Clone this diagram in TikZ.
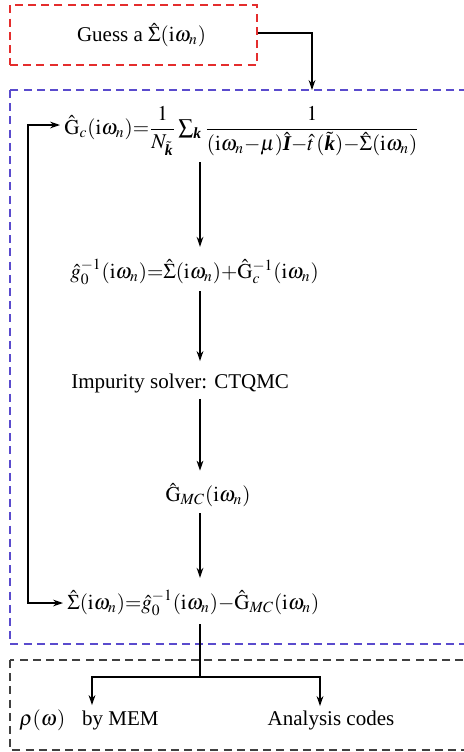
\documentclass[tikz,border=0pt]{standalone}
\usepackage{amsmath}
\usepackage{mathptmx}
\usepackage{fontspec}
\setmainfont{Liberation Serif}
\usetikzlibrary{arrows.meta,positioning,calc}
\newcommand{\iw}{(\mathrm{i}\omega_n)}
\newcommand{\bfit}[1]{\text{\normalfont\bfseries\itshape #1}}

\begin{document}
\begin{tikzpicture}[x=0.5pt,y=-0.5pt,
  every node/.style={font=\fontsize{10.5}{12}\selectfont,inner sep=2pt},
  eq/.style={anchor=west},
  ar/.style={-{Stealth[length=5pt,width=3.4pt]},line width=0.6pt},
  down/.style={ar,shorten <=1pt,shorten >=4pt},
  ln/.style={line width=0.6pt},
  redbox/.style={draw={rgb,255:red,228;green,45;blue,45},dash pattern=on 4pt off 2.6pt,line width=0.7pt},
  bluebox/.style={draw={rgb,255:red,90;green,75;blue,205},dash pattern=on 4pt off 2.6pt,line width=0.7pt},
  blackbox/.style={draw=black!75,dash pattern=on 4pt off 2.6pt,line width=0.7pt}]
\clip (0,0) rectangle (464,752);
% frames
\draw[bluebox] (10,90) rectangle (470,644);
\draw[blackbox] (10,660) rectangle (470,750);
% steps
\node[redbox,minimum width=123.5pt,minimum height=30pt] (guess) at (133.5,35) {\hspace*{8pt}\raisebox{-2pt}{Guess a $\hat{\Sigma}\iw$}};
\node[eq] (gc) at (60,131) {$\hat{\mathrm{G}}_c\iw{=}\dfrac{1}{N_{\tilde{\bfit{k}}}}\sum\nolimits_{\bfit{k}}\dfrac{1}{(\mathrm{i}\omega_n{-}\mu)\hat{\bfit{I}}{-}\hat{t}\,(\tilde{\bfit{k}}){-}\hat{\Sigma}\iw}$};
\node[eq] (g0) at (66,272) {$\hat{g}_0^{-1}\iw{=}\hat{\Sigma}\iw{+}\hat{\mathrm{G}}_c^{-1}\iw$};
\node[eq] (imp) at (67,383) {Impurity solver: CTQMC};
\node (gmc) at (208,495) {$\hat{\mathrm{G}}_{MC}\iw$};
\node[eq] (sig) at (63,603) {$\hat{\Sigma}\iw{=}\hat{g}_0^{-1}\iw{-}\hat{\mathrm{G}}_{MC}\iw$};
\node (mem) at (89,720) {$\rho(\omega)$\;\; by MEM};
\node (ana) at (331,720) {Analysis codes};
% connectors
\coordinate (col) at (200,0);
\coordinate (fork) at (200,677);
\coordinate (loop) at (28,125);
\coordinate (entry) at (312,90);
\draw[ar] (guess.east |- 0,33) -| (entry);
\draw[down] (gc.south -| col) -- (g0.north -| col);
\draw[down] (g0.south -| col) -- (imp.north -| col);
\draw[down] (imp.south -| col) -- (gmc.north -| col);
\draw[down] (gmc.south -| col) -- (sig.north -| col);
\draw[ar,{Stealth[length=5pt,width=3.4pt]}-{Stealth[length=5pt,width=3.4pt]}] (sig.west) -| (loop) -- (gc.west |- loop);
\draw[ln] (sig.south -| col) ++(0,4) -- (fork);
\draw[ar] (fork) -| (mem.north -| 92,0);
\draw[ar] (fork) -| (ana.north -| 320,0);
\end{tikzpicture}
\end{document}
